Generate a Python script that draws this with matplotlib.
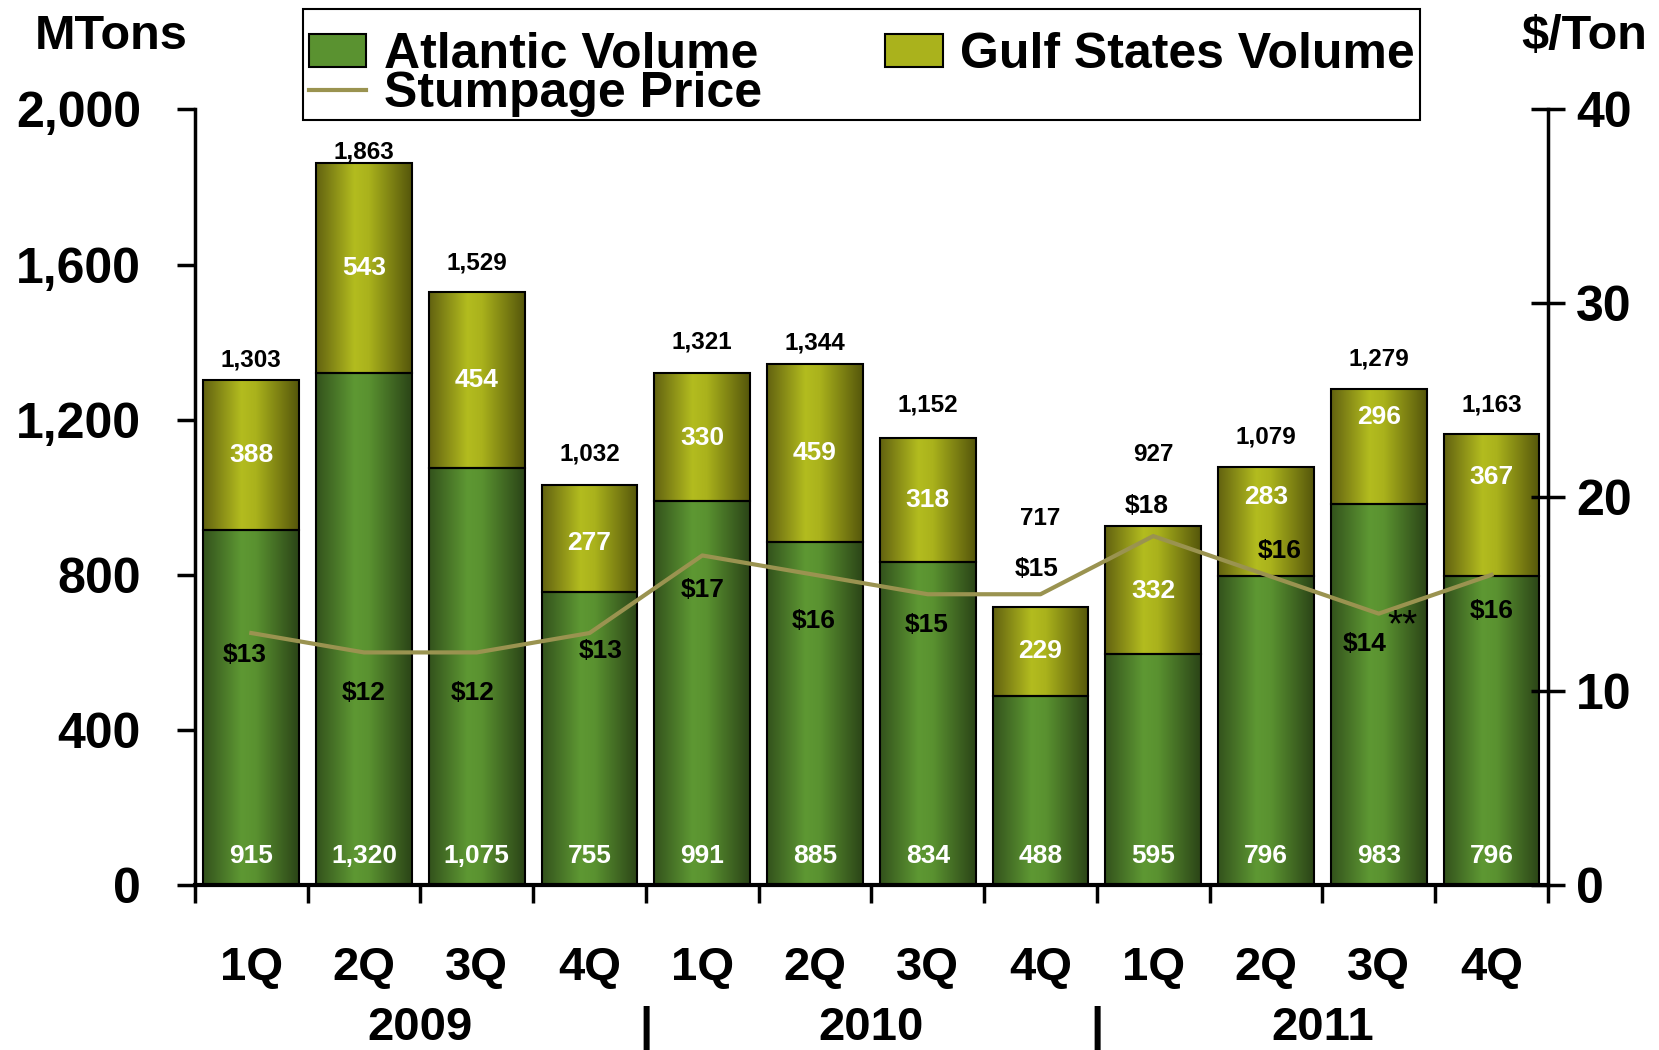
import matplotlib.pyplot as plt
import numpy as np
import matplotlib.transforms as mtransforms
from matplotlib.colors import LinearSegmentedColormap
from matplotlib.patches import Patch, Rectangle
from matplotlib.lines import Line2D

plt.rcParams['font.family'] = ['Liberation Sans', 'DejaVu Sans']
plt.rcParams['font.weight'] = 'bold'

# Data
quarters = ['1Q', '2Q', '3Q', '4Q'] * 3
years = ['2009', '2010', '2011']
atlantic = [915, 1320, 1075, 755, 991, 885, 834, 488, 595, 796, 983, 796]
gulf = [388, 543, 454, 277, 330, 459, 318, 229, 332, 283, 296, 367]
totals = [1303, 1863, 1529, 1032, 1321, 1344, 1152, 717, 927, 1079, 1279, 1163]
price = [13, 12, 12, 13, 17, 16, 15, 15, 18, 16, 14, 16]

# label nudges in points (hand placed in the original)
total_dy = [14.5, 7.6, 21, 22, 22, 15, 24, 63.5, 51, 21, 22, 21]
gulf_dy = [0, 0, 0, -3, -1, 0, 0, 0, -1, 18, 21, 20]
price_off = [(-5, -16), (0, -29), (-3, -29), (8, -13), (0, -25), (-1, -33),
             (-1, -22), (-3, 18), (-5, 22), (10, 17), (-10, -22), (0, -26)]

atl_cmap = LinearSegmentedColormap.from_list(
    'atl', [(0, '#33521c'), (0.4, '#5e9833'), (0.55, '#5a9230'), (1, '#2b4417')])
gulf_cmap = LinearSegmentedColormap.from_list(
    'gulf', [(0, '#626210'), (0.4, '#b3bc1f'), (0.55, '#aab21c'), (1, '#55560b')])
line_color = '#9a9350'

fig = plt.figure(figsize=(16.59, 10.5), dpi=100)
ax = fig.add_axes([0.1175, 0.157, 0.8155, 0.7388])
x = np.arange(len(quarters))

bars_a = ax.bar(x, atlantic, width=0.85, facecolor='none', edgecolor='black', linewidth=1.5, zorder=3)
bars_g = ax.bar(x, gulf, bottom=atlantic, width=0.85, facecolor='none', edgecolor='black', linewidth=1.5, zorder=3)

grad = np.linspace(0, 1, 256).reshape(1, -1)
for bars, cmap in [(bars_a, atl_cmap), (bars_g, gulf_cmap)]:
    for b in bars:
        x0, y0, w, h = b.get_x(), b.get_y(), b.get_width(), b.get_height()
        ax.imshow(grad, cmap=cmap, extent=(x0, x0 + w, y0, y0 + h), aspect='auto',
                  interpolation='bicubic', zorder=2)

ax.set_xlim(-0.5, 11.5)
ax.set_ylim(0, 2000)

# value labels
for i in range(len(x)):
    ax.annotate(f'{atlantic[i]:,}', (i, 0), xytext=(0, 21), textcoords='offset points',
                ha='center', va='center', color='white', fontsize=19, zorder=5)
    ax.annotate(f'{gulf[i]:,}', (i, atlantic[i] + gulf[i] / 2), xytext=(0, gulf_dy[i]),
                textcoords='offset points', ha='center', va='center', color='white',
                fontsize=19, zorder=5)
    ax.annotate(f'{totals[i]:,}', (i, atlantic[i] + gulf[i]), xytext=(0, total_dy[i]),
                textcoords='offset points', ha='center', va='center', color='black',
                fontsize=17.5, zorder=5)

# axes styling
for s in ['top', 'right']:
    ax.spines[s].set_visible(False)
ax.spines['left'].set_linewidth(2.5)
ax.spines['bottom'].set_linewidth(3)
ax.set_yticks(np.arange(0, 2001, 400))
ax.set_yticklabels([f'{v:,}' for v in range(0, 2001, 400)])
ax.tick_params(axis='y', direction='out', length=13, width=2.5, pad=26, labelsize=36)
ax.set_xticks(x)
ax.set_xticklabels(quarters)
ax.tick_params(axis='x', which='major', length=0, pad=44, labelsize=34)
ax.set_xticks(np.arange(-0.5, 12, 1), minor=True)
ax.tick_params(axis='x', which='minor', direction='out', length=13, width=2.5)

trans = mtransforms.blended_transform_factory(ax.transData, ax.transAxes)
for k, yr in enumerate(years):
    ax.text(4 * k + 1.5, -0.184, yr, transform=trans, ha='center', va='center', fontsize=34)
for sep in [3.5, 7.5]:
    ax.text(sep, -0.184, '|', transform=trans, ha='center', va='center', fontsize=34)

# price line
ax2 = ax.twinx()
ax2.plot(x, price, color=line_color, linewidth=3, zorder=4)
ax2.set_ylim(0, 40)
ax2.set_yticks(np.arange(0, 41, 10))
for s in ['top', 'left', 'bottom']:
    ax2.spines[s].set_visible(False)
ax2.spines['right'].set_linewidth(2.5)
ax2.tick_params(axis='y', direction='inout', length=25, width=2.5, pad=8, labelsize=36)
for i in range(len(x)):
    ax2.annotate(f'${price[i]}', (i, price[i]), xytext=price_off[i], textcoords='offset points',
                 ha='center', va='center', fontsize=19, zorder=6)
ax2.annotate('**', (10, price[10]), xytext=(17, -9), textcoords='offset points',
             ha='center', va='center', fontsize=28, fontweight='normal', zorder=6)

fig.text(0.067, 0.965, 'MTons', ha='center', va='center', fontsize=35)
fig.text(0.955, 0.965, '$/Ton', ha='center', va='center', fontsize=35)

# legend: entries without frame, box drawn separately to match the original
handles = [Patch(facecolor='#5a9230', edgecolor='black', linewidth=1.5),
           Line2D([0], [0], color=line_color, linewidth=3),
           Patch(facecolor='#aab21c', edgecolor='black', linewidth=1.5)]
labels = ['Atlantic Volume', 'Stumpage Price', 'Gulf States Volume']
fig.legend(handles, labels, ncol=2, loc='lower left',
           bbox_to_anchor=(0.183, 0.884, 0.673, 0.106), mode='expand',
           fontsize=36, frameon=False,
           labelspacing=-0.15, handlelength=1.15, handleheight=0.65,
           handletextpad=0.35, borderpad=0.1, borderaxespad=0)
fig.patches.append(Rectangle((0.1827, 0.8856), 0.6731, 0.1063, transform=fig.transFigure,
                             fill=False, edgecolor='black', linewidth=1.5))

plt.savefig('out.png', dpi=100)
